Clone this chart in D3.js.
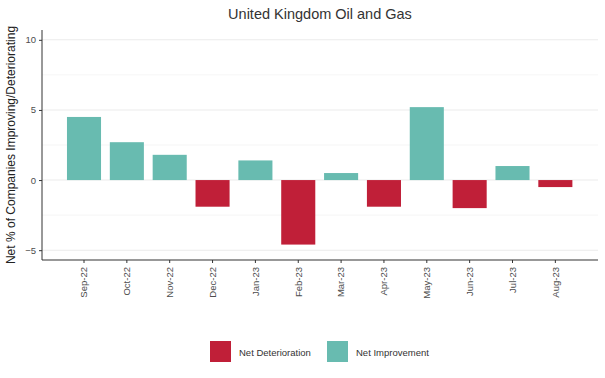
<!DOCTYPE html>
<html lang="en">
<head>
  <meta charset="UTF-8">
  <title>United Kingdom Oil and Gas</title>
  <style>
  body { margin: 0; background: #fff; }
  svg { font-family: Arial, "Liberation Sans", sans-serif; }
  .tick text { fill: #4d4d4d; font-size: 9.5px; }
  </style>
</head>
<body>
<script src="https://d3js.org/d3.v7.min.js"></script>
<script>
// data
var months = ["Sep-22", "Oct-22", "Nov-22", "Dec-22", "Jan-23", "Feb-23",
              "Mar-23", "Apr-23", "May-23", "Jun-23", "Jul-23", "Aug-23"];
var netValues = [4.5, 2.7, 1.8, -1.9, 1.4, -4.6, 0.5, -1.9, 5.2, -2.0, 1.0, -0.5];
var yTicks = [-5, 0, 5, 10];
var yMinorTicks = [-2.5, 2.5, 7.5];
var legendLabels = ["Net Deterioration", "Net Improvement"];
var colors = ["#c01f38", "#68bbb0"];

var width = 605, height = 378;
var plotLeft = 42, plotRight = 598, plotTop = 30, plotBottom = 260;

var dataset = months.map(function(m, i) { return { month: m, value: netValues[i] }; });

var svg = d3.select("body").append("svg").attr("width", width).attr("height", height);

var step = 42.85;
var xScale = d3.scaleBand()
  .domain(months)
  .range([84 - step / 2, 84 - step / 2 + step * 12])
  .paddingInner(0.205)
  .paddingOuter(0.1025);

var yScale = d3.scaleLinear()
  .domain([-5.7, 10.7])
  .range([plotBottom, plotTop]);

// grid
svg.append("g").selectAll("line")
  .data(yMinorTicks)
  .enter().append("line")
  .attr("x1", plotLeft).attr("x2", plotRight)
  .attr("y1", function(d) { return yScale(d); })
  .attr("y2", function(d) { return yScale(d); })
  .attr("stroke", "#f2f2f2").attr("stroke-width", 0.8);

svg.append("g").selectAll("line")
  .data(yTicks)
  .enter().append("line")
  .attr("x1", plotLeft).attr("x2", plotRight)
  .attr("y1", function(d) { return yScale(d); })
  .attr("y2", function(d) { return yScale(d); })
  .attr("stroke", "#ebebeb").attr("stroke-width", 1.1);

// bars
svg.append("g").selectAll("rect")
  .data(dataset)
  .enter().append("rect")
  .attr("x", function(d) { return xScale(d.month); })
  .attr("width", xScale.bandwidth())
  .attr("y", function(d) { return yScale(Math.max(0, d.value)); })
  .attr("height", function(d) { return Math.abs(yScale(d.value) - yScale(0)); })
  .attr("fill", function(d) { return d.value < 0 ? colors[0] : colors[1]; });

// axes
var axisx = d3.axisBottom(xScale).tickSize(3).tickPadding(4).tickSizeOuter(0);
var gx = svg.append("g")
  .attr("transform", "translate(0," + plotBottom + ")")
  .call(axisx);
gx.select(".domain").remove();
gx.append("line").attr("x1", plotLeft).attr("x2", plotRight).attr("stroke", "#333").attr("stroke-width", 1);
gx.selectAll(".tick line").attr("stroke", "#333");
gx.selectAll(".tick text")
  .attr("transform", "rotate(-90)")
  .attr("text-anchor", "end")
  .attr("x", -7).attr("y", 0).attr("dy", "0.35em");

var axisy = d3.axisLeft(yScale).tickValues(yTicks).tickSize(3).tickPadding(3);
var gy = svg.append("g")
  .attr("transform", "translate(" + plotLeft + ",0)")
  .call(axisy);
gy.select(".domain").remove();
gy.append("line").attr("y1", plotTop).attr("y2", plotBottom).attr("stroke", "#333").attr("stroke-width", 1);
gy.selectAll(".tick line").attr("stroke", "#333");

// titles
svg.append("text")
  .attr("x", (plotLeft + plotRight) / 2).attr("y", 19)
  .attr("text-anchor", "middle")
  .attr("fill", "#333").attr("font-size", 14.5)
  .text("United Kingdom Oil and Gas");

svg.append("text")
  .attr("transform", "translate(15," + ((plotTop + plotBottom) / 2) + ") rotate(-90)")
  .attr("text-anchor", "middle")
  .attr("fill", "#222").attr("font-size", 12)
  .text("Net % of Companies Improving/Deteriorating");

// legend
var legend = svg.append("g").attr("transform", "translate(210,341)");
var lx = [0, 117];
legendLabels.forEach(function(lab, i) {
  legend.append("rect")
    .attr("x", lx[i]).attr("y", 0).attr("width", 21).attr("height", 21)
    .attr("fill", colors[i]);
  legend.append("text")
    .attr("x", lx[i] + 29).attr("y", 14.5)
    .attr("fill", "#333").attr("font-size", 9.5)
    .text(lab);
});
</script>
</body>
</html>
